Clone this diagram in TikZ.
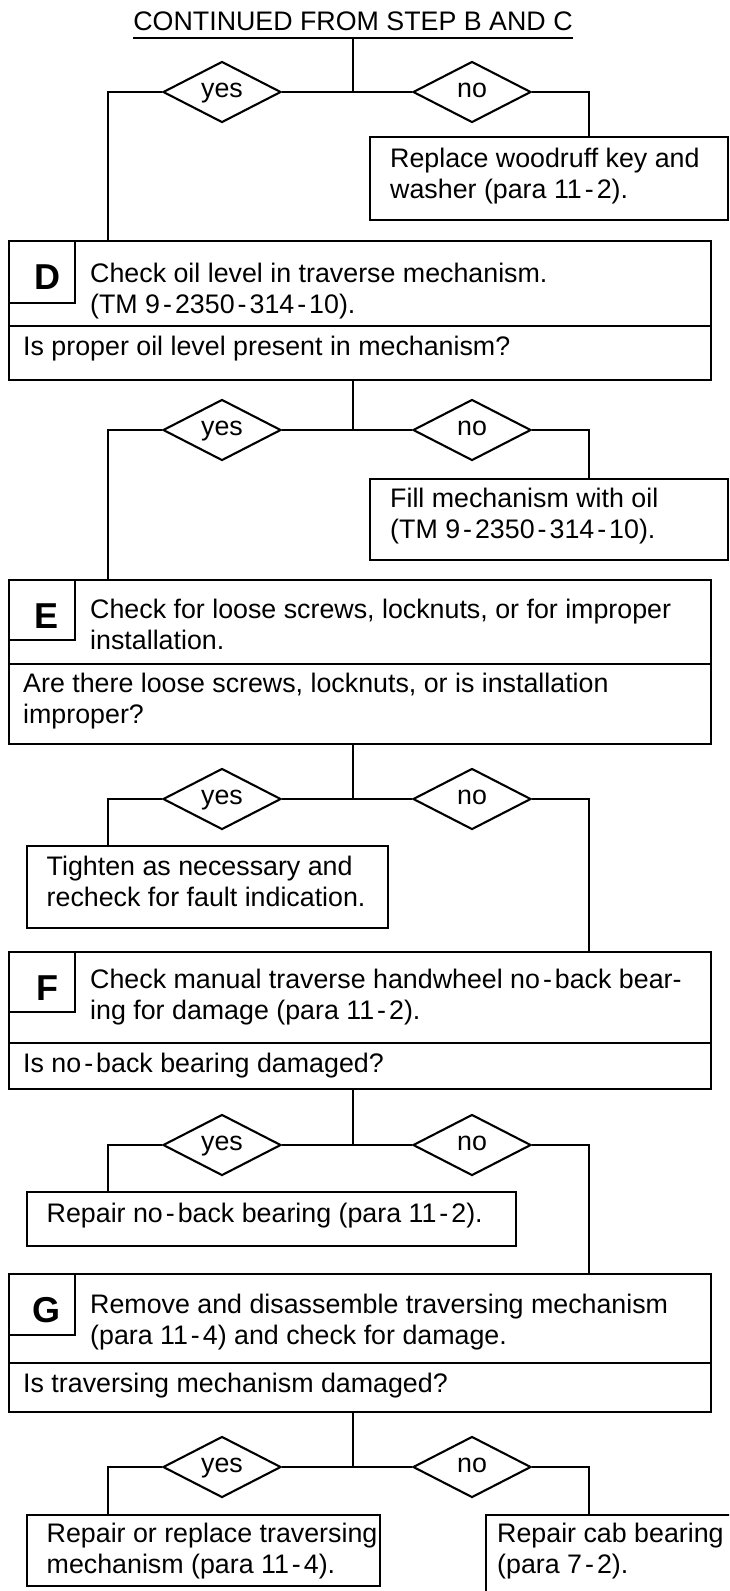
\documentclass[tikz,border=0pt]{standalone}
\usepackage{fontspec}
\setmainfont{Liberation Sans}
\usetikzlibrary{shapes.geometric}
% spaced dash used in reference numbers
\newcommand{\sdash}{\kern3pt-\kern3pt}
\tikzset{
    every node/.style={font=\fontsize{26.8}{30.5}\selectfont},
    line/.style={line width=2.1pt},
    box/.style={
        draw,
        rectangle,
        line width=2.1pt,
        anchor=north west,
        inner sep=0pt
    },
    choice/.style={
        draw,
        diamond,
        aspect=2,
        minimum width=118pt,
        minimum height=61pt,
        inner sep=0pt,
        text height=14pt,
        text depth=3pt,
        line width=2.1pt
    },
    % multi-line text sits on the baseline of its last line
    txt/.style={anchor=base west, inner sep=0pt, align=left},
    letter/.style={anchor=base, inner sep=0pt, font=\fontsize{36}{40}\selectfont\bfseries}
}

\begin{document}
\begin{tikzpicture}[x=1pt, y=-1pt]
    \clip (0,0) rectangle (729,1591);

    % Heading
    \node[anchor=base, inner sep=0pt] (title) at (353,30) {CONTINUED FROM STEP B AND C};
    \draw[line] ([yshift=-8pt]title.base west) -- ([yshift=-8pt]title.base east);

    % Step D
    \node[box, minimum width=702pt, minimum height=85pt] (Dtop) at (8,240) {};
    \node[box, minimum width=702pt, minimum height=54pt] (Dq) at (8,325) {};
    \node[box, minimum width=66pt, minimum height=62pt] (Dlet) at (8,240) {};
    \node[letter] (Dl) at (47,289) {D};
    \node[txt] (Dtxt) at (90,313) {Check oil level in traverse mechanism.\\(TM 9\sdash2350\sdash314\sdash10).};
    \node[txt] (Dqtxt) at (23,355) {Is proper oil level present in mechanism?};

    % Step E
    \node[box, minimum width=702pt, minimum height=84pt] (Etop) at (8,579) {};
    \node[box, minimum width=702pt, minimum height=80pt] (Eq) at (8,663) {};
    \node[box, minimum width=66pt, minimum height=60pt] (Elet) at (8,579) {};
    \node[letter] (El) at (47,628) {E};
    \node[txt] (Etxt) at (90,649) {Check for loose screws, locknuts, or for improper\\installation.};
    \node[txt] (Eqtxt) at (23,723) {Are there loose screws, locknuts, or is installation\\improper?};

    % Step F
    \node[box, minimum width=702pt, minimum height=91pt] (Ftop) at (8,951) {};
    \node[box, minimum width=702pt, minimum height=46pt] (Fq) at (8,1042) {};
    \node[box, minimum width=66pt, minimum height=60pt] (Flet) at (8,951) {};
    \node[letter] (Fl) at (47,1000) {F};
    \node[txt] (Ftxt) at (90,1019) {Check manual traverse handwheel no\sdash back bear-\\ing for damage (para 11\sdash2).};
    \node[txt] (Fqtxt) at (23,1072) {Is no\sdash back bearing damaged?};

    % Step G
    \node[box, minimum width=702pt, minimum height=89pt] (Gtop) at (8,1273) {};
    \node[box, minimum width=702pt, minimum height=49pt] (Gq) at (8,1362) {};
    \node[box, minimum width=66pt, minimum height=61pt] (Glet) at (8,1273) {};
    \node[letter] (Gl) at (47,1322) {G};
    \node[txt] (Gtxt) at (90,1344) {Remove and disassemble traversing mechanism\\(para 11\sdash4) and check for damage.};
    \node[txt] (Gqtxt) at (23,1392) {Is traversing mechanism damaged?};

    % Action boxes
    \node[box, minimum width=358pt, minimum height=83pt] (rep) at (369,136) {};
    \node[txt] (reptxt) at (390,198) {Replace woodruff key and\\washer (para 11\sdash2).};
    \node[box, minimum width=358pt, minimum height=81pt] (fill) at (369,478) {};
    \node[txt] (filltxt) at (390,538) {Fill mechanism with oil\\(TM 9\sdash2350\sdash314\sdash10).};
    \node[box, minimum width=361pt, minimum height=82pt] (tight) at (26,845) {};
    \node[txt] (tighttxt) at (46.5,906) {Tighten as necessary and\\recheck for fault indication.};
    \node[box, minimum width=489pt, minimum height=54pt] (repnb) at (26,1191) {};
    \node[txt] (repnbtxt) at (46.5,1222) {Repair no\sdash back bearing (para 11\sdash2).};
    \node[box, minimum width=353pt, minimum height=71pt] (repmech) at (26,1514) {};
    \node[txt] (repmechtxt) at (46.5,1573) {Repair or replace traversing\\mechanism (para 11\sdash4).};
    \node[box, minimum width=260pt, minimum height=90pt] (cab) at (485,1514) {};
    \node[txt] (cabtxt) at (497,1573) {Repair cab bearing\\(para 7\sdash2).};

    % Decisions
    \node[choice] (yes1) at (222,92) {yes};
    \node[choice] (no1) at (472,92) {no};
    \node[choice] (yes2) at (222,430) {yes};
    \node[choice] (no2) at (472,430) {no};
    \node[choice] (yes3) at (222,799) {yes};
    \node[choice] (no3) at (472,799) {no};
    \node[choice] (yes4) at (222,1145) {yes};
    \node[choice] (no4) at (472,1145) {no};
    \node[choice] (yes5) at (222,1467) {yes};
    \node[choice] (no5) at (472,1467) {no};

    % Junctions
    \coordinate (j1) at (353,92);   \coordinate (l1) at (108,92);   \coordinate (r1) at (589,92);
    \coordinate (j2) at (353,430);  \coordinate (l2) at (108,430);  \coordinate (r2) at (589,430);
    \coordinate (j3) at (353,799);  \coordinate (l3) at (108,799);  \coordinate (r3) at (589,799);
    \coordinate (j4) at (353,1145); \coordinate (l4) at (108,1145); \coordinate (r4) at (589,1145);
    \coordinate (j5) at (353,1467); \coordinate (l5) at (108,1467); \coordinate (r5) at (589,1467);

    % Connectors
    \draw[line] ([yshift=-8pt]title.base) -- (j1);
    \draw[line] (yes1.east) -- (no1.west);
    \draw[line] (yes1.west) -- (l1) -- (l1 |- Dtop.north);
    \draw[line] (no1.east) -- (r1) -- (r1 |- rep.north);

    \draw[line] (j2 |- Dq.south) -- (j2);
    \draw[line] (yes2.east) -- (no2.west);
    \draw[line] (yes2.west) -- (l2) -- (l2 |- Etop.north);
    \draw[line] (no2.east) -- (r2) -- (r2 |- fill.north);

    \draw[line] (j3 |- Eq.south) -- (j3);
    \draw[line] (yes3.east) -- (no3.west);
    \draw[line] (yes3.west) -- (l3) -- (l3 |- tight.north);
    \draw[line] (no3.east) -- (r3) -- (r3 |- Ftop.north);

    \draw[line] (j4 |- Fq.south) -- (j4);
    \draw[line] (yes4.east) -- (no4.west);
    \draw[line] (yes4.west) -- (l4) -- (l4 |- repnb.north);
    \draw[line] (no4.east) -- (r4) -- (r4 |- Gtop.north);

    \draw[line] (j5 |- Gq.south) -- (j5);
    \draw[line] (yes5.east) -- (no5.west);
    \draw[line] (yes5.west) -- (l5) -- (l5 |- repmech.north);
    \draw[line] (no5.east) -- (r5) -- (r5 |- cab.north);
\end{tikzpicture}
\end{document}
